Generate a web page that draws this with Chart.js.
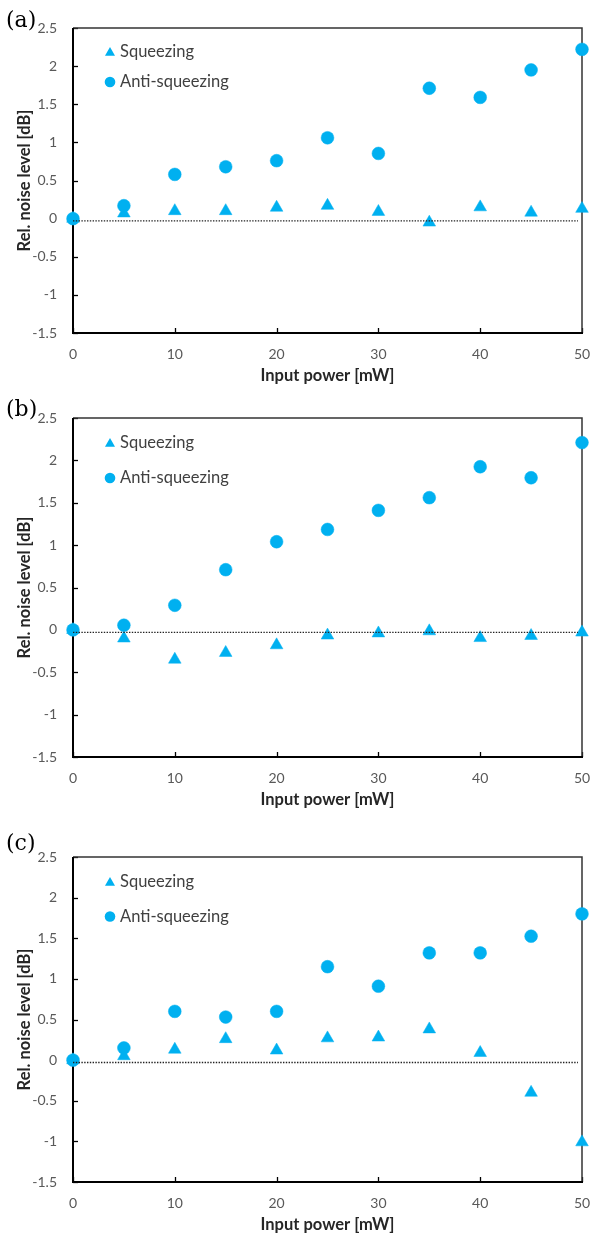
<!DOCTYPE html>
<html><head><meta charset="utf-8">
<script src="https://cdn.jsdelivr.net/npm/chart.js@4.4.1/dist/chart.umd.min.js"></script>
<style>
html,body{margin:0;padding:0;background:#fff;overflow:hidden;width:591px;height:1236px;}
canvas{position:absolute;left:0;}
</style></head><body>
<canvas id="ca"></canvas><canvas id="cb"></canvas><canvas id="cc"></canvas>
<script>
// ---------- data ----------
const powers = [0, 5, 10, 15, 20, 25, 30, 35, 40, 45, 50];
const squeezingA = [0, 0.07, 0.10, 0.10, 0.145, 0.17, 0.09, -0.05, 0.15, 0.08, 0.13];
const antiA      = [0, 0.17, 0.58, 0.68, 0.76, 1.06, 0.855, 1.71, 1.59, 1.95, 2.22];
const squeezingB = [0, -0.10, -0.35, -0.27, -0.18, -0.065, -0.04, -0.015, -0.095, -0.07, -0.03];
const antiB      = [0, 0.055, 0.29, 0.71, 1.04, 1.185, 1.41, 1.56, 1.925, 1.795, 2.21];
const squeezingC = [0, 0.05, 0.13, 0.26, 0.12, 0.27, 0.28, 0.38, 0.09, -0.40, -1.01];
const antiC      = [0, 0.15, 0.60, 0.53, 0.60, 1.15, 0.91, 1.32, 1.32, 1.525, 1.80];
const refLevel = -0.03;          // dotted reference line
const refLineX = [0, 49.6];
const yMin = -1.5, yMax = 2.5, yStep = 0.5;
const xMin = 0, xMax = 50, xStep = 10;
const seriesNames = ['Squeezing', 'Anti-squeezing'];
const panelLabels = ['(a)', '(b)', '(c)'];
const xTitle = 'Input power [mW]';
const yTitle = 'Rel. noise level [dB]';

// ---------- style / layout ----------
const BLUE = '#00B0F0';
const FONT = 'Lato, Carlito, Calibri, sans-serif';
const X_AXIS_H = 54;

const panels = [
  {id:'ca', canvasTop:0,   plotTop:28,  plotBottom:333,  sqz:squeezingA, anti:antiA, label:panelLabels[0], labelBase:-1, leg:[24,54]},
  {id:'cb', canvasTop:390, plotTop:418, plotBottom:757,  sqz:squeezingB, anti:antiB, label:panelLabels[1], labelBase:-2, leg:[25,60]},
  {id:'cc', canvasTop:830, plotTop:857, plotBottom:1182, sqz:squeezingC, anti:antiC, label:panelLabels[2], labelBase:-7, leg:[25,59.5]},
];

function tri(ctx, x, y, r){
  ctx.beginPath();
  for(let i=0;i<3;i++){
    const a = i*2*Math.PI/3;
    const px = x + Math.sin(a)*r, py = y - Math.cos(a)*r;
    if(i===0) ctx.moveTo(px,py); else ctx.lineTo(px,py);
  }
  ctx.closePath(); ctx.fill();
}

const framePlugin = {
  id:'frame',
  beforeDatasetsDraw(chart){
    const {ctx, chartArea:a, scales:{x, y}} = chart;
    ctx.save();
    // inward tick marks
    ctx.strokeStyle = '#000'; ctx.lineWidth = 1.3;
    y.ticks.forEach(t=>{
      const py = Math.round(y.getPixelForValue(t.value)) + 0.5;
      ctx.beginPath(); ctx.moveTo(a.left, py); ctx.lineTo(a.left+5, py); ctx.stroke();
    });
    x.ticks.forEach(t=>{
      const px = Math.round(x.getPixelForValue(t.value)) + 0.5;
      ctx.beginPath(); ctx.moveTo(px, a.bottom); ctx.lineTo(px, a.bottom-5); ctx.stroke();
    });
    // top/right border
    ctx.strokeStyle = '#333'; ctx.lineWidth = 1.5;
    ctx.beginPath(); ctx.moveTo(a.left, a.top); ctx.lineTo(a.right, a.top); ctx.lineTo(a.right, a.bottom); ctx.stroke();
    // left/bottom axes
    ctx.strokeStyle = '#000'; ctx.lineWidth = 2;
    ctx.beginPath(); ctx.moveTo(a.left, a.top); ctx.lineTo(a.left, a.bottom); ctx.lineTo(a.right+1, a.bottom); ctx.stroke();
    ctx.restore();
  },
  afterDatasetsDraw(chart, args, opts){
    const {ctx, chartArea:a} = chart;
    ctx.save();
    // legend
    const lx = a.left + 37;
    const y1 = a.top + opts.leg[0], y2 = a.top + opts.leg[1];
    ctx.fillStyle = BLUE;
    tri(ctx, lx, y1 + 0.8, 5.8);
    ctx.beginPath(); ctx.arc(lx, y2, 5.3, 0, 2*Math.PI); ctx.fill();
    ctx.fillStyle = '#404040';
    ctx.font = '16.5px ' + FONT;
    ctx.textBaseline = 'middle'; ctx.textAlign = 'left';
    ctx.fillText(seriesNames[0], a.left + 47, y1);
    ctx.fillText(seriesNames[1], a.left + 47, y2);
    // panel label
    ctx.fillStyle = '#000';
    ctx.font = '22px "DejaVu Serif", serif';
    ctx.textBaseline = 'alphabetic';
    ctx.fillText(opts.label, 6, a.top + opts.labelBase);
    ctx.restore();
  }
};

panels.forEach(p=>{
  const cv = document.getElementById(p.id);
  const h = p.plotBottom - p.canvasTop + X_AXIS_H;
  cv.width = 591; cv.height = h;
  cv.style.top = p.canvasTop + 'px';
  cv.style.width = '591px'; cv.style.height = h + 'px';
  new Chart(cv, {
    type:'scatter',
    data:{
      datasets:[
        {type:'line', label:'ref', data: refLineX.map(v=>({x:v, y:refLevel})),
         borderColor:'#222', borderWidth:1.4, borderDash:[1.4,1.4], pointRadius:0, clip:false, order:0},
        {label:seriesNames[1], data: powers.map((v,i)=>({x:v, y:p.anti[i]})),
         pointStyle:'circle', pointRadius:6.4, pointBorderWidth:0.5,
         backgroundColor:BLUE, borderColor:BLUE, clip:false, order:1},
        {label:seriesNames[0], data: powers.map((v,i)=>({x:v, y:p.sqz[i]})),
         pointStyle:'triangle', pointRadius:7.3, pointBorderWidth:0.5,
         backgroundColor:BLUE, borderColor:BLUE, clip:false, order:2},
      ]
    },
    options:{
      responsive:false, animation:false, devicePixelRatio:1,
      layout:{padding:{top:p.plotTop - p.canvasTop, right:9, left:0, bottom:0}},
      plugins:{legend:{display:false}, tooltip:{enabled:false},
        frame:{leg:p.leg, label:p.label, labelBase:p.labelBase}},
      scales:{
        x:{type:'linear', min:xMin, max:xMax,
          ticks:{stepSize:xStep, color:'#595959', font:{family:FONT, size:14}, padding:13, maxRotation:0},
          grid:{display:false, drawTicks:false}, border:{display:false},
          title:{display:true, text:xTitle, color:'#262626', font:{family:FONT, size:16.5, weight:'bold'}, padding:{top:0,bottom:1}},
          afterFit(s){ s.height = X_AXIS_H; s.paddingLeft = 0; s.paddingRight = 0; }
        },
        y:{type:'linear', min:yMin, max:yMax,
          ticks:{stepSize:yStep, color:'#595959', font:{family:FONT, size:14}, padding:16, callback:v=>String(v)},
          grid:{display:false, drawTicks:false}, border:{display:false},
          title:{display:true, text:yTitle, color:'#262626', font:{family:FONT, size:16.5, weight:'bold'}, padding:{top:15,bottom:0}},
          afterFit(s){ s.width = 73; s.paddingTop = 0; s.paddingBottom = 0; }
        }
      }
    },
    plugins:[framePlugin]
  });
});
</script>
</body></html>
